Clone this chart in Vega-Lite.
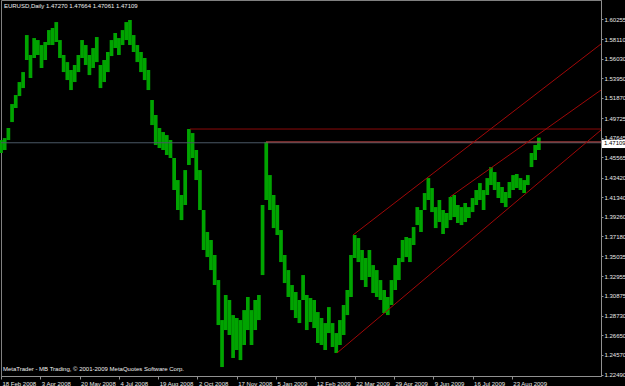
{
  "$schema": "https://vega.github.io/schema/vega-lite/v6.json",
  "width": 600,
  "height": 376,
  "autosize": {"type": "none"},
  "padding": {"left": 1, "top": 0, "right": 24, "bottom": 10},
  "background": "#000000",
  "config": {
    "view": {"stroke": "#808080", "strokeWidth": 1},
    "axis": {"labelFont": "Liberation Sans", "labelFontSize": 6, "labelColor": "#e8e8e8", "domainColor": "#909090", "tickColor": "#909090", "grid": false, "title": null, "labelOverlap": false, "labelBound": false, "labelFlush": false, "labelSeparation": 0}
  },
  "datasets": {
    "bars": [
      {"b":0,"p":1.4740,"l":1.4602},{"b":3,"p":1.4761,"l":1.4634},{"b":6,"p":1.4868,"l":1.4740},{"b":9,"p":1.5122,"l":1.4931},
      {"b":12,"p":1.5218,"l":1.5080},{"b":15,"p":1.5356,"l":1.5207},{"b":18,"p":1.5462,"l":1.5292},{"b":21,"p":1.5855,"l":1.5590},
      {"b":24,"p":1.5643,"l":1.5399},{"b":27,"p":1.5823,"l":1.5611},{"b":30,"p":1.5802,"l":1.5643},{"b":33,"p":1.5749,"l":1.5505},
      {"b":36,"p":1.5781,"l":1.5590},{"b":39,"p":1.5908,"l":1.5749},{"b":42,"p":1.5930,"l":1.5749},{"b":45,"p":1.5993,"l":1.5781},
      {"b":48,"p":1.5802,"l":1.5611},{"b":51,"p":1.5643,"l":1.5462},{"b":54,"p":1.5568,"l":1.5377},{"b":57,"p":1.5484,"l":1.5271},
      {"b":60,"p":1.5537,"l":1.5356},{"b":63,"p":1.5643,"l":1.5462},{"b":66,"p":1.5802,"l":1.5611},{"b":69,"p":1.5749,"l":1.5537},
      {"b":72,"p":1.5643,"l":1.5430},{"b":75,"p":1.5717,"l":1.5505},{"b":78,"p":1.5834,"l":1.5568},{"b":81,"p":1.5537,"l":1.5292},
      {"b":84,"p":1.5590,"l":1.5356},{"b":87,"p":1.5675,"l":1.5462},{"b":90,"p":1.5802,"l":1.5632},{"b":93,"p":1.5877,"l":1.5717},
      {"b":96,"p":1.5823,"l":1.5643},{"b":99,"p":1.5908,"l":1.5749},{"b":102,"p":1.5993,"l":1.5802},{"b":105,"p":1.6015,"l":1.5749},
      {"b":108,"p":1.5855,"l":1.5675},{"b":111,"p":1.5749,"l":1.5568},{"b":114,"p":1.5675,"l":1.5462},{"b":117,"p":1.5611,"l":1.5377},
      {"b":120,"p":1.5484,"l":1.5271},{"b":123,"p":1.5165,"l":1.4899},{"b":126,"p":1.5006,"l":1.4687},{"b":129,"p":1.4868,"l":1.4655},
      {"b":132,"p":1.4825,"l":1.4634},{"b":135,"p":1.4793,"l":1.4581},{"b":138,"p":1.4740,"l":1.4549},{"b":141,"p":1.4549,"l":1.4209},
      {"b":144,"p":1.4315,"l":1.3997},{"b":147,"p":1.4156,"l":1.3890},{"b":150,"p":1.4421,"l":1.4050},{"b":153,"p":1.4857,"l":1.4475},
      {"b":156,"p":1.4814,"l":1.4549},{"b":159,"p":1.4634,"l":1.4315},{"b":162,"p":1.4421,"l":1.3997},{"b":165,"p":1.3997,"l":1.3572},
      {"b":168,"p":1.3763,"l":1.3497},{"b":171,"p":1.3678,"l":1.3359},{"b":174,"p":1.3519,"l":1.3200},{"b":177,"p":1.3253,"l":1.2775},
      {"b":180,"p":1.2828,"l":1.2329},{"b":183,"p":1.3094,"l":1.2722},{"b":186,"p":1.3041,"l":1.2669},{"b":189,"p":1.2881,"l":1.2425},
      {"b":192,"p":1.2850,"l":1.2510},{"b":195,"p":1.2828,"l":1.2403},{"b":198,"p":1.2934,"l":1.2563},{"b":201,"p":1.3073,"l":1.2722},
      {"b":204,"p":1.2934,"l":1.2563},{"b":207,"p":1.3041,"l":1.2722},{"b":210,"p":1.3094,"l":1.2828},{"b":213,"p":1.4050,"l":1.3306},
      {"b":216,"p":1.4720,"l":1.4103},{"b":219,"p":1.4368,"l":1.3997},{"b":222,"p":1.4156,"l":1.3805},{"b":225,"p":1.4050,"l":1.3731},
      {"b":228,"p":1.3784,"l":1.3444},{"b":231,"p":1.3519,"l":1.3221},{"b":234,"p":1.3359,"l":1.3073},{"b":237,"p":1.3200,"l":1.2934},
      {"b":240,"p":1.3126,"l":1.2850},{"b":243,"p":1.3041,"l":1.2796},{"b":246,"p":1.3306,"l":1.3041},{"b":249,"p":1.3094,"l":1.2722},
      {"b":252,"p":1.3062,"l":1.2807},{"b":255,"p":1.3041,"l":1.2743},{"b":258,"p":1.2913,"l":1.2584},{"b":261,"p":1.2850,"l":1.2563},
      {"b":264,"p":1.2796,"l":1.2510},{"b":267,"p":1.2966,"l":1.2690},{"b":270,"p":1.2796,"l":1.2542},{"b":273,"p":1.2690,"l":1.2478},
      {"b":276,"p":1.2828,"l":1.2563},{"b":279,"p":1.2988,"l":1.2669},{"b":282,"p":1.3147,"l":1.2881},{"b":285,"p":1.3519,"l":1.3073},
      {"b":288,"p":1.3731,"l":1.3487},{"b":291,"p":1.3699,"l":1.3444},{"b":294,"p":1.3572,"l":1.3253},{"b":297,"p":1.3487,"l":1.3179},
      {"b":300,"p":1.3572,"l":1.3285},{"b":303,"p":1.3412,"l":1.3115},{"b":306,"p":1.3359,"l":1.3073},{"b":309,"p":1.3253,"l":1.3041},
      {"b":312,"p":1.3147,"l":1.2903},{"b":315,"p":1.3073,"l":1.2881},{"b":318,"p":1.3253,"l":1.2988},{"b":321,"p":1.3412,"l":1.3147},
      {"b":324,"p":1.3487,"l":1.3253},{"b":327,"p":1.3678,"l":1.3444},{"b":330,"p":1.3710,"l":1.3497},{"b":333,"p":1.3699,"l":1.3444},
      {"b":336,"p":1.3816,"l":1.3625},{"b":339,"p":1.4028,"l":1.3837},{"b":342,"p":1.3997,"l":1.3763},{"b":345,"p":1.4177,"l":1.3997},
      {"b":348,"p":1.4336,"l":1.4103},{"b":351,"p":1.4230,"l":1.3975},{"b":354,"p":1.4028,"l":1.3805},{"b":357,"p":1.4103,"l":1.3869},
      {"b":360,"p":1.3997,"l":1.3742},{"b":363,"p":1.3965,"l":1.3805},{"b":366,"p":1.4135,"l":1.3890},{"b":369,"p":1.4156,"l":1.3922},
      {"b":372,"p":1.4050,"l":1.3859},{"b":375,"p":1.4028,"l":1.3837},{"b":378,"p":1.4071,"l":1.3869},{"b":381,"p":1.4028,"l":1.3912},
      {"b":384,"p":1.4124,"l":1.3975},{"b":387,"p":1.4209,"l":1.4050},{"b":390,"p":1.4283,"l":1.4103},{"b":393,"p":1.4209,"l":1.3997},
      {"b":396,"p":1.4336,"l":1.4156},{"b":399,"p":1.4453,"l":1.4262},{"b":402,"p":1.4400,"l":1.4209},{"b":405,"p":1.4294,"l":1.4124},
      {"b":408,"p":1.4241,"l":1.4071},{"b":411,"p":1.4188,"l":1.4028},{"b":414,"p":1.4294,"l":1.4124},{"b":417,"p":1.4368,"l":1.4209},
      {"b":420,"p":1.4379,"l":1.4230},{"b":423,"p":1.4336,"l":1.4209},{"b":426,"p":1.4315,"l":1.4177},{"b":429,"p":1.4368,"l":1.4262},
      {"b":432,"p":1.4602,"l":1.4453},{"b":435,"p":1.4687,"l":1.4528},{"b":438,"p":1.4766,"l":1.4634}
    ],
    "lines": [
      {"id":"bid","b":0,"p":1.47109},{"id":"bid","b":488.6,"p":1.47109},
      {"id":"hi","b":153.9,"p":1.4857},{"id":"hi","b":488.6,"p":1.4857},
      {"id":"dec","b":215.8,"p":1.472},{"id":"dec","b":488.6,"p":1.472},
      {"id":"top","b":286.6,"p":1.3731},{"id":"top","b":488.6,"p":1.576},
      {"id":"mid","b":365.6,"p":1.4135},{"id":"mid","b":488.6,"p":1.5271},
      {"id":"bot","b":273.6,"p":1.2478},{"id":"bot","b":488.6,"p":1.4846}
    ],
    "texts": [
      {"b":2.4,"p":1.6163,"t":"EURUSD,Daily  1.47270 1.47664 1.47061 1.47109"},
      {"b":1.6,"p":1.2308,"t":"MetaTrader - MB Trading, © 2001-2009 MetaQuotes Software Corp."}
    ],
    "pbox": [{"b":489.4,"b2":508.5,"p":1.4743,"p2":1.4655}],
    "plabel": [{"b":489.4,"p":1.47109}]
  },
  "encoding": {
    "x": {"field": "b", "type": "quantitative", "scale": {"domain": [0, 488.6], "nice": false, "zero": false},
      "axis": {"orient": "bottom", "values": [0,32,64,96,128,160,192,224,256,288,320,352,384,416], "tickSize": 3, "labelAlign": "left", "labelPadding": 1, "labelOffset": 1, "labelOverlap": false,
        "labelExpr": "['18 Feb 2008','3 Apr 2008','20 May 2008','4 Jul 2008','19 Aug 2008','2 Oct 2008','17 Nov 2008','5 Jan 2009','12 Feb 2009','22 Mar 2009','29 Apr 2009','9 Jun 2009','16 Jul 2009','23 Aug 2009'][round(datum.value/32)]"}},
    "y": {"field": "p", "type": "quantitative", "scale": {"domain": [1.22338, 1.62273], "nice": false, "zero": false},
      "axis": {"orient": "right", "values": [1.60255,1.5811,1.5603,1.5395,1.5187,1.49725,1.47645,1.45565,1.4342,1.4134,1.3926,1.3718,1.35035,1.32955,1.30875,1.2873,1.2665,1.2457,1.2249], "format": ".5f", "tickSize": 2, "labelPadding": 1, "labelOverlap": false, "labelSeparation": 0, "labelBaseline": "middle"}}
  },
  "layer": [
    {
      "data": {"name": "bars"},
      "mark": {"type": "rule", "color": "#00a400", "strokeWidth": 3.7},
      "encoding": {"y2": {"field": "l"}}
    },
    {
      "data": {"name": "lines"},
      "mark": {"type": "line", "strokeWidth": 1, "clip": true},
      "encoding": {
        "color": {"field": "id", "type": "nominal", "legend": null,
          "scale": {"domain": ["bid","hi","dec","top","mid","bot"], "range": ["#4a5866","#8c0a0a","#c04a4a","#a00808","#a00808","#a00808"]}}
      }
    },
    {
      "data": {"name": "texts"},
      "mark": {"type": "text", "align": "left", "baseline": "middle", "font": "Liberation Sans", "fontSize": 6, "color": "#f0f0f0"},
      "encoding": {"text": {"field": "t"}}
    },
    {
      "data": {"name": "pbox"},
      "mark": {"type": "rect", "color": "#ffffff"},
      "encoding": {"x2": {"field": "b2"}, "y2": {"field": "p2"}}
    },
    {
      "data": {"name": "plabel"},
      "mark": {"type": "text", "align": "left", "baseline": "middle", "font": "Liberation Sans", "fontSize": 6, "color": "#000000", "dx": 2},
      "encoding": {"text": {"field": "p", "type": "quantitative", "format": ".5f"}}
    }
  ]
}
